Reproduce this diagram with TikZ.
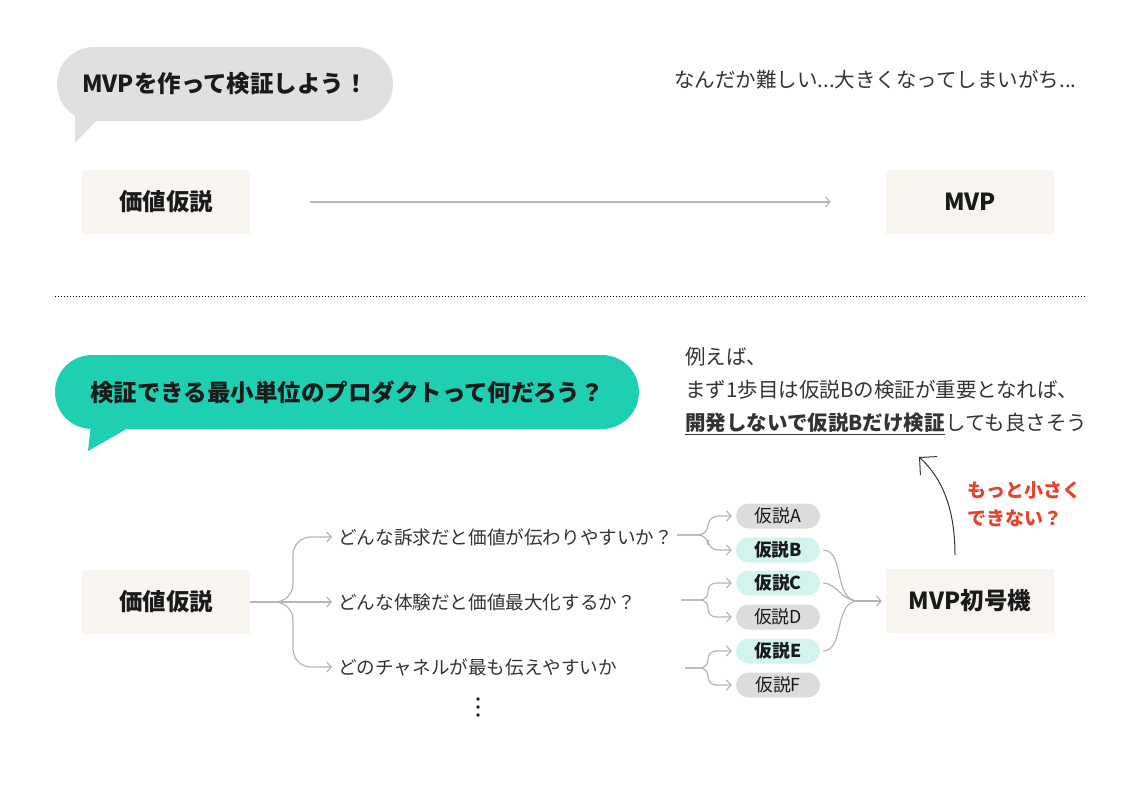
\documentclass[tikz,border=0pt]{standalone}
\usepackage{fontspec}
\setmainfont{Noto Sans CJK JP}
\usetikzlibrary{arrows.meta}
\definecolor{bubgray}{HTML}{E0E0E0}
\definecolor{teal}{HTML}{1ECFB1}
\definecolor{boxbg}{HTML}{F8F5F0}
\definecolor{pillgray}{HTML}{DCDCDC}
\definecolor{pillteal}{HTML}{D3F4EE}
\definecolor{redtxt}{HTML}{E8432A}
\definecolor{txt}{HTML}{333333}
\definecolor{dark}{HTML}{1A1A1A}
\definecolor{conngray}{HTML}{B5B5B5}
\newcommand{\fbody}{\fontsize{20.5}{24}\selectfont}
\newcommand{\fq}{\fontsize{18.6}{22}\selectfont}
\newcommand{\fbig}{\fontsize{23.5}{27}\selectfont\bfseries}
\newcommand{\fpill}{\fontsize{17.8}{20}\selectfont}
\begin{document}
\begin{tikzpicture}[x=1pt,y=-1pt,
  bubble/.style={rounded corners=37pt, minimum height=74pt, inner sep=0pt, font=\fbig, text=dark},
  valbox/.style={fill=boxbg, minimum width=168pt, minimum height=64pt, inner sep=0pt, font=\fbig, text=dark},
  qtext/.style={anchor=west, inner xsep=6pt, inner ysep=0pt, font=\fq, text=txt},
  pill/.style={rounded corners=12.5pt, minimum width=84pt, minimum height=25pt, inner sep=0pt, font=\fpill, text=dark},
  gpill/.style={pill, fill=pillgray},
  tpill/.style={pill, fill=pillteal, font=\fpill\bfseries},
  conn/.style={draw=conngray, line width=1.2pt},
  arr/.style={conn, -{Straight Barb[length=4.5pt, width=10pt, line width=1.2pt]}},
  body/.style={anchor=west, inner sep=0pt, font=\fbody, text=txt}
]
\useasboundingbox (0,0) rectangle (1147,798);

% ---------- top section ----------
\fill[bubgray] (75,110) -- (75,143) -- (97,120) -- (112,110) -- cycle;
\node[bubble, fill=bubgray, minimum width=336pt] (b1) at (225,84) {MVPを作って検証しよう！};
\node[body] (hard) at (674,80) {なんだか難しい...大きくなってしまいがち...};

\node[valbox] (vt) at (166,202) {価値仮説};
\node[valbox] (mt) at (970,202) {MVP};
\draw[arr] ([xshift=60pt]vt.east) -- ([xshift=-55pt]mt.west);

\draw[line width=1pt, dash pattern=on 1pt off 2pt] (55,296) -- (1087,296);

% ---------- bottom section ----------
\fill[teal] (92,415) -- (88,451) -- (125,430) -- (135,415) -- cycle;
\node[bubble, fill=teal, minimum width=584pt] (b2) at (347,392) {検証できる最小単位のプロダクトって何だろう？};

\node[body] (e1) at (685,357) {例えば、};
\node[body] (e2) at (685,390) {まず1歩目は仮説Bの検証が重要となれば、};
\node[body, font=\fbody\bfseries] (e3) at (685,423) {開発しないで仮説Bだけ検証};
\node[anchor=base west, inner sep=0pt, font=\fbody, text=txt] (e4) at (e3.base east) {しても良さそう};
\draw[txt, line width=1.5pt] ([yshift=-1.5pt]e3.south west) -- ([yshift=-1.5pt]e3.south east);

\coordinate (ca) at (955,555);
\coordinate (cb) at (919,457);
\draw[txt, line width=1pt, -{Straight Barb[length=12.5pt, width=25pt, line width=1pt]}] (ca) .. controls (955,505) and (940,476) .. (cb);
\node[anchor=west, inner sep=0pt, align=left, font=\fontsize{19}{28}\selectfont\bfseries, text=redtxt] (red) at (967,504) {もっと小さく\\できない？};

\node[valbox] (v2) at (166,602) {価値仮説};
\node[valbox] (m2) at (970,601) {MVP初号機};

\node[qtext] (q1) at (332,537) {どんな訴求だと価値が伝わりやすいか？};
\node[qtext] (q2) at (332,602) {どんな体験だと価値最大化するか？};
\node[qtext] (q3) at (332,667) {どのチャネルが最も伝えやすいか};
\fill[dark] (478,699) circle (1.8pt) (478,707) circle (1.8pt) (478,715) circle (1.8pt);

\draw[arr, rounded corners=18pt] (v2.east) -- (293,602) |- (q1.west);
\draw[arr] (v2.east) -- (q2.west);
\draw[arr, rounded corners=18pt] (v2.east) -- (293,602) |- (q3.west);

\node[gpill] (pA) at (778,516) {仮説A};
\node[tpill] (pB) at (778,550) {仮説B};
\node[tpill] (pC) at (778,583) {仮説C};
\node[gpill] (pD) at (778,617) {仮説D};
\node[tpill] (pE) at (778,651) {仮説E};
\node[gpill] (pF) at (778,685) {仮説F};

\coordinate (f1) at (677,535);
\coordinate (f2) at (681,600);
\coordinate (f3) at (685,668);
\draw[arr, rounded corners=10pt, shorten >=4pt] (f1) -- (708,535) |- (pA.west);
\draw[arr, rounded corners=10pt, shorten >=4pt] (f1) -- (708,535) |- (pB.west);
\draw[arr, rounded corners=8pt, shorten >=4pt] (f2) -- (708,600) |- (pC.west);
\draw[arr, rounded corners=8pt, shorten >=4pt] (f2) -- (708,600) |- (pD.west);
\draw[arr, rounded corners=8pt, shorten >=4pt] (f3) -- (708,668) |- (pE.west);
\draw[arr, rounded corners=8pt, shorten >=4pt] (f3) -- (708,668) |- (pF.west);

\coordinate (mj) at (858,601);
\draw[conn, shorten <=3pt] (pB.east) to[out=0, in=180] (mj);
\draw[conn, shorten <=3pt] (pC.east) to[out=0, in=180] (mj);
\draw[conn, shorten <=3pt] (pE.east) to[out=0, in=180] (mj);
\draw[arr, shorten >=4pt] (mj) -- (m2.west);
\end{tikzpicture}
\end{document}
